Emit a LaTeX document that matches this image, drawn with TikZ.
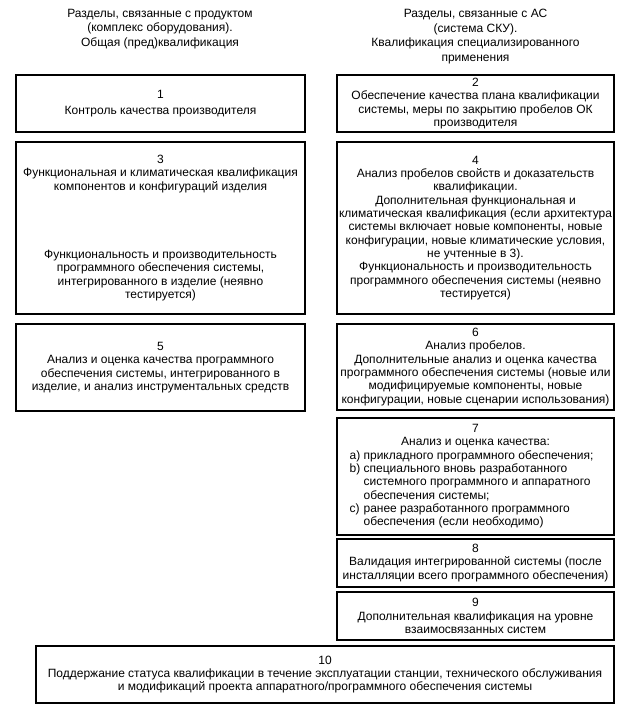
\documentclass[tikz,border=0pt]{standalone}
\usepackage{fontspec}
\setmainfont{Liberation Sans}
\begin{document}
\begin{tikzpicture}[x=1pt,y=-1pt,
  boxbase/.style={draw=black, line width=1.7pt, inner sep=0pt,
    font=\fontsize{12}{13.3}\selectfont},
  box/.style={boxbase, align=center},
  hdr/.style={align=center, inner sep=0pt, font=\fontsize{12}{14.4}\selectfont}]
\useasboundingbox (0,0) rectangle (629,711);
% headers
\node[hdr] (hl) at (160,29) {Разделы, связанные с продуктом\\(комплекс оборудования).\\Общая (пред)квалификация};
\node[hdr] (hr) at (475.5,36.5) {Разделы, связанные с АС\\(система СКУ).\\Квалификация специализированного\\применения};
% left column
\node[box, minimum width=289pt, minimum height=57pt] (b1) at (160.5,103.5)
  {1\\[2pt]Контроль качества производителя};
\node[box, minimum width=289pt, minimum height=172pt] (b3) at (160.5,228)
  {3\\Функциональная и климатическая квалификация\\компонентов и конфигураций изделия\\[55pt]Функциональность и производительность\\программного обеспечения системы,\\интегрированного в изделие (неявно\\тестируется)};
\node[box, minimum width=289pt, minimum height=87pt] (b5) at (160.5,367.5)
  {5\\Анализ и оценка качества программного\\обеспечения системы, интегрированного в\\изделие, и анализ инструментальных средств};
% right column
\node[box, minimum width=277pt, minimum height=57pt] (b2) at (475.5,103.5)
  {2\\Обеспечение качества плана квалификации\\системы, меры по закрытию пробелов ОК\\производителя};
\node[box, minimum width=277pt, minimum height=172pt] (b4) at (475.5,228)
  {4\\Анализ пробелов свойств и доказательств\\квалификации.\\Дополнительная функциональная и\\климатическая квалификация (если архитектура\\системы включает новые компоненты, новые\\конфигурации, новые климатические условия,\\не учтенные в 3).\\Функциональность и производительность\\программного обеспечения системы (неявно\\тестируется)};
\node[box, minimum width=277pt, minimum height=86pt] (b6) at (475.5,367)
  {6\\Анализ пробелов.\\Дополнительные анализ и оценка качества\\программного обеспечения системы (новые или\\модифицируемые компоненты, новые\\конфигурации, новые сценарии использования)};
\node[boxbase, minimum width=277pt, minimum height=117pt] (b7) at (475.5,476.5)
  {\renewcommand{\arraystretch}{1}\begin{tabular}{@{}l@{ }l@{\hspace{8pt}}}
   \multicolumn{2}{@{}c@{}}{7}\\
   \multicolumn{2}{@{}c@{}}{Анализ и оценка качества:}\\
   a)&прикладного программного обеспечения;\\
   b)&специального вновь разработанного\\
     &системного программного и аппаратного\\
     &обеспечения системы;\\
   c)&ранее разработанного программного\\
     &обеспечения (если необходимо)
   \end{tabular}};
\node[box, minimum width=277pt, minimum height=48pt] (b8) at (475.5,563)
  {8\\Валидация интегрированной системы (после\\инсталляции всего программного обеспечения)};
\node[box, minimum width=277pt, minimum height=48pt] (b9) at (475.5,616)
  {9\\Дополнительная квалификация на уровне\\взаимосвязанных систем};
% bottom
\node[box, minimum width=578pt, minimum height=57pt] (b10) at (325,674.5)
  {10\\Поддержание статуса квалификации в течение эксплуатации станции, технического обслуживания\\и модификаций проекта аппаратного/программного обеспечения системы};
\end{tikzpicture}
\end{document}
